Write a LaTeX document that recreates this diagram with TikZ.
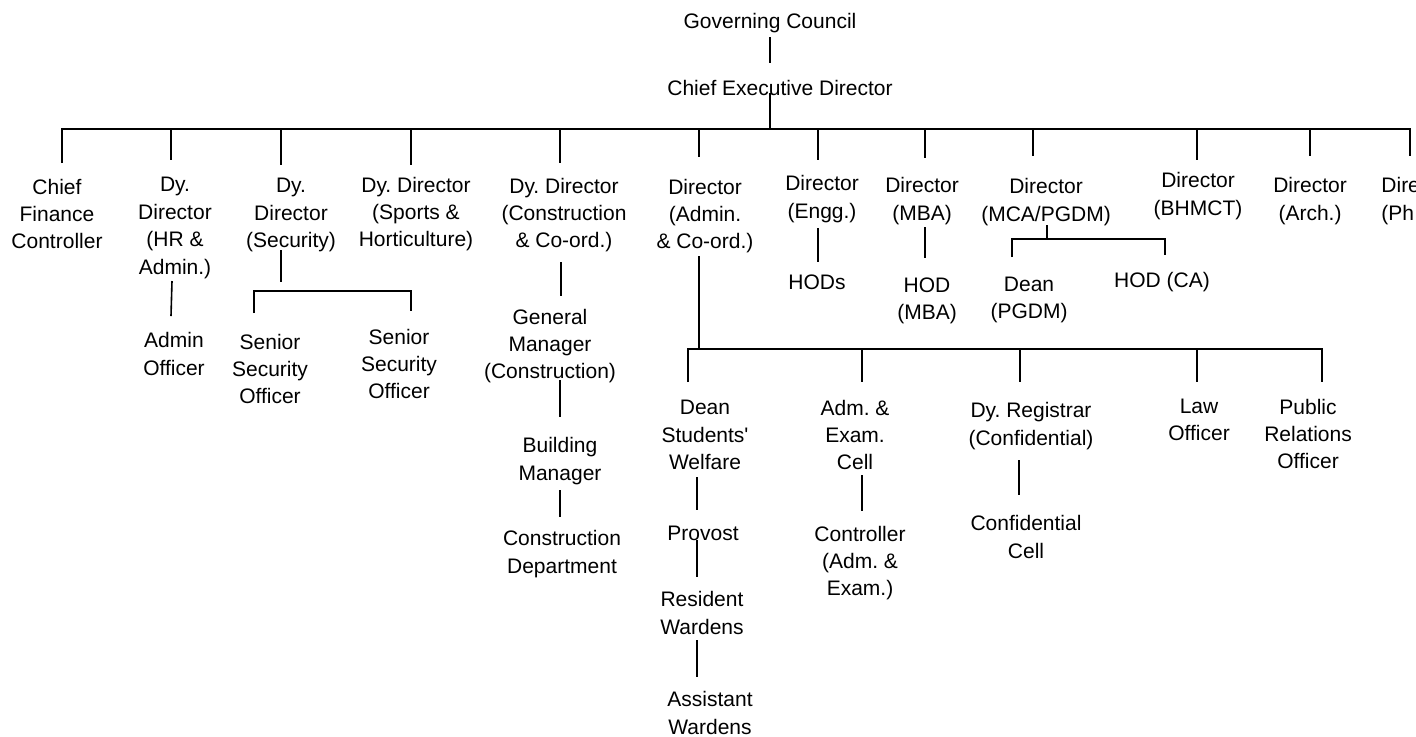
\documentclass[tikz,border=0pt]{standalone}
\usepackage{fontspec}
\setmainfont{Liberation Sans}
\frenchspacing
\begin{document}
\begin{tikzpicture}[x=0.5pt,y=-0.5pt,
  lbl/.style={align=center,inner sep=0pt,font=\fontsize{10.5}{13.7}\selectfont\frenchspacing},
  conn/.style={line width=0.8pt}]
\fill[white] (0,0) rectangle (1416,736);
\clip (0,0) rectangle (1416,736);
% ---- nodes ----
\node[lbl] (gc) at (770,23) {Governing Council};
\node[lbl] (ced) at (780,88) {Chief Executive Director};
\node[lbl] (cfc) at (57,214) {Chief\\Finance\\Controller};
\node[lbl] (dhr) at (175,228) {Dy.\\Director\\(HR \&\\Admin.)};
\node[lbl] (dsec) at (291,215) {Dy.\\Director\\(Security)};
\node[lbl] (dsp) at (416,214) {Dy. Director\\(Sports \&\\Horticulture)};
\node[lbl] (dcon) at (564,215) {Dy. Director\\(Construction\\\& Co-ord.)};
\node[lbl] (dadm) at (705,216) {Director\\(Admin.\\\& Co-ord.)};
\node[lbl] (deng) at (822,199) {Director\\(Engg.)};
\node[lbl] (dmba) at (922,201) {Director\\(MBA)};
\node[lbl] (dmca) at (1046,202) {Director\\(MCA/PGDM)};
\node[lbl] (dbh) at (1198,196) {Director\\(BHMCT)};
\node[lbl] (dar) at (1310,201) {Director\\(Arch.)};
\node[lbl,align=left,anchor=west] (dph) at (1381,201) {Director\\(Ph};
% level 2
\node[lbl] (aof) at (174,354) {Admin\\Officer};
\node[lbl] (sso1) at (270,369) {Senior\\Security\\Officer};
\node[lbl] (sso2) at (399,364) {Senior\\Security\\Officer};
\node[lbl] (gm) at (550,346) {General\\Manager\\(Construction)};
\node[lbl] (bm) at (560,461) {Building\\Manager};
\node[lbl] (cd) at (562,554) {Construction\\Department};
\node[lbl] (hods) at (817,282) {HODs};
\node[lbl] (hodmba) at (927,301) {HOD\\(MBA)};
\node[lbl] (dpgdm) at (1029,300) {Dean\\(PGDM)};
\node[lbl] (hodca) at (1162,282) {HOD (CA)};
\node[lbl] (dsw) at (705,435) {Dean\\Students\textquotesingle\\Welfare};
\node[lbl] (prov) at (703,533) {Provost};
\node[lbl] (rw) at (702,613) {Resident\\Wardens};
\node[lbl] (aw) at (710,713) {Assistant\\Wardens};
\node[lbl] (aec) at (855,435) {Adm. \&\\Exam.\\Cell};
\node[lbl] (ctrl) at (860,563) {Controller\\(Adm. \&\\Exam.)};
\node[lbl] (dreg) at (1031,426) {Dy. Registrar\\(Confidential)};
\node[lbl] (cc) at (1026,537) {Confidential\\Cell};
\node[lbl] (law) at (1199,420) {Law\\Officer};
\node[lbl] (pro) at (1308,434) {Public\\Relations\\Officer};
% ---- junction coordinates ----
\coordinate (busL) at (62,129);
\coordinate (busR) at (1410,129);
\coordinate (secL) at (254,291);
\coordinate (secR) at (411,291);
\coordinate (mcaL) at (1012,239);
\coordinate (mcaR) at (1165,239);
\coordinate (admL) at (688,349);
\coordinate (admR) at (1322,349);
% ---- connectors ----
\draw[conn] (770,37) -- (770,63);
\draw[conn] (770,93) -- (770,129);
\draw[conn] (62,163) -- (busL) -- (busR) -- (1410,156);
\foreach \x/\y in {171/160,281/165,411/165,560/163,699/157,818/160,925/158,1033/156,1197/160,1310/156}
  \draw[conn] (\x,129) -- (\x,\y);
% HR
\draw[conn] (172,281) -- (171,316);
% Security
\draw[conn] (281,250) -- (281,282);
\draw[conn] (254,313) -- (secL) -- (secR) -- (411,311);
% Construction
\draw[conn] (561,262) -- (561,296);
\draw[conn] (560,380) -- (560,417);
\draw[conn] (560,490) -- (560,517);
% Engg, MBA
\draw[conn] (818,228) -- (818,262);
\draw[conn] (925,227) -- (925,258);
% MCA
\draw[conn] (1047,225) -- (1047,239);
\draw[conn] (1012,257) -- (mcaL) -- (mcaR) -- (1165,255);
% Admin
\draw[conn] (699,256) -- (699,349);
\draw[conn] (688,382) -- (admL) -- (admR) -- (1322,382);
\foreach \x in {862,1020,1197}
  \draw[conn] (\x,349) -- (\x,382);
\draw[conn] (697,477) -- (697,510);
\draw[conn] (697,540) -- (697,577);
\draw[conn] (697,640) -- (697,677);
\draw[conn] (862,475) -- (862,511);
\draw[conn] (1019,460) -- (1019,495);
\end{tikzpicture}
\end{document}
